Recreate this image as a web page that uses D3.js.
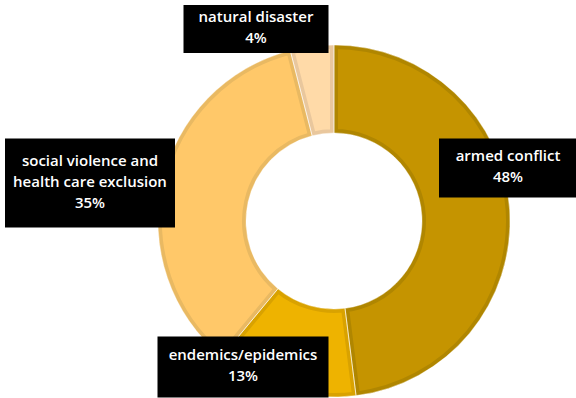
<!DOCTYPE html>
<html lang="en">
<head>
<meta charset="utf-8">
<title>Donut</title>
<script src="https://cdn.jsdelivr.net/npm/d3@7"></script>
<style>
  body { margin: 0; background: #fff; }
  svg { display: block; }
  .lbl { font-family: "Open Sans", Lato, sans-serif; font-weight: 600; font-size: 15px; fill: #fff; }
</style>
</head>
<body>
<script>
// data
var categories = ["armed conflict", "endemics/epidemics", "social violence and health care exclusion", "natural disaster"];
var values = [48, 13, 35, 4];
var labelLines = [["armed conflict"], ["endemics/epidemics"], ["social violence and", "health care exclusion"], ["natural disaster"]];
var fills = ["#C59400", "#EEB300", "#FFC869", "#FFDAA8"];
var borders = ["#B08600", "#D9A200", "#E9B962", "#E9C79D"];

// label boxes: centre offset from the donut centre, box width/height
var labelBox = [
  {dx: 174, dy: -53, w: 138, h: 59},
  {dx: -91, dy: 146, w: 171, h: 61},
  {dx: -244, dy: -38, w: 170, h: 89},
  {dx: -78, dy: -192, w: 145, h: 48}
];

var w = 576, h = 398;
var cx = 334, cy = 221;
var outerR = 176, innerR = 88;

var svg = d3.select("body").append("svg")
  .attr("width", w)
  .attr("height", h);

var pie = d3.pie().sort(null).value(function(d) { return d; });
var arcs = pie(values);
var arc = d3.arc().innerRadius(innerR).outerRadius(outerR);

var g = svg.append("g").attr("transform", "translate(" + cx + "," + cy + ")");
var defs = svg.append("defs");

arcs.forEach(function(a, i) {
  defs.append("clipPath").attr("id", "clip" + i)
    .append("path").attr("d", arc(a));
});

g.selectAll("path.slice")
  .data(arcs)
  .enter()
  .append("path")
  .attr("class", "slice")
  .attr("d", arc)
  .attr("clip-path", function(d, i) { return "url(#clip" + i + ")"; })
  .attr("fill", function(d, i) { return fills[i]; })
  .attr("stroke", function(d, i) { return borders[i]; })
  .attr("stroke-width", 8)
  .attr("stroke-linejoin", "round");

// thin light seam between slices
g.selectAll("path.seam")
  .data(arcs)
  .enter()
  .append("path")
  .attr("class", "seam")
  .attr("d", arc)
  .attr("fill", "none")
  .attr("stroke", "#fff")
  .attr("stroke-opacity", 0.6)
  .attr("stroke-width", 0.8);

// labels
var labels = g.selectAll("g.label")
  .data(arcs)
  .enter()
  .append("g")
  .attr("class", "label")
  .attr("transform", function(d, i) {
    return "translate(" + labelBox[i].dx + "," + labelBox[i].dy + ")";
  });

labels.append("rect")
  .attr("x", function(d, i) { return -labelBox[i].w / 2; })
  .attr("y", function(d, i) { return -labelBox[i].h / 2; })
  .attr("width", function(d, i) { return labelBox[i].w; })
  .attr("height", function(d, i) { return labelBox[i].h; })
  .attr("fill", "#000");

labels.each(function(d, i) {
  var lines = labelLines[i].concat([values[i] + "%"]);
  var lh = 21;
  var y0 = -(lines.length - 1) * lh / 2 - 1.5;
  var t = d3.select(this).append("text")
    .attr("class", "lbl")
    .attr("text-anchor", "middle");
  lines.forEach(function(s, k) {
    t.append("tspan")
      .attr("x", 0)
      .attr("y", y0 + k * lh)
      .attr("dy", "0.35em")
      .text(s);
  });
});
</script>
</body>
</html>
